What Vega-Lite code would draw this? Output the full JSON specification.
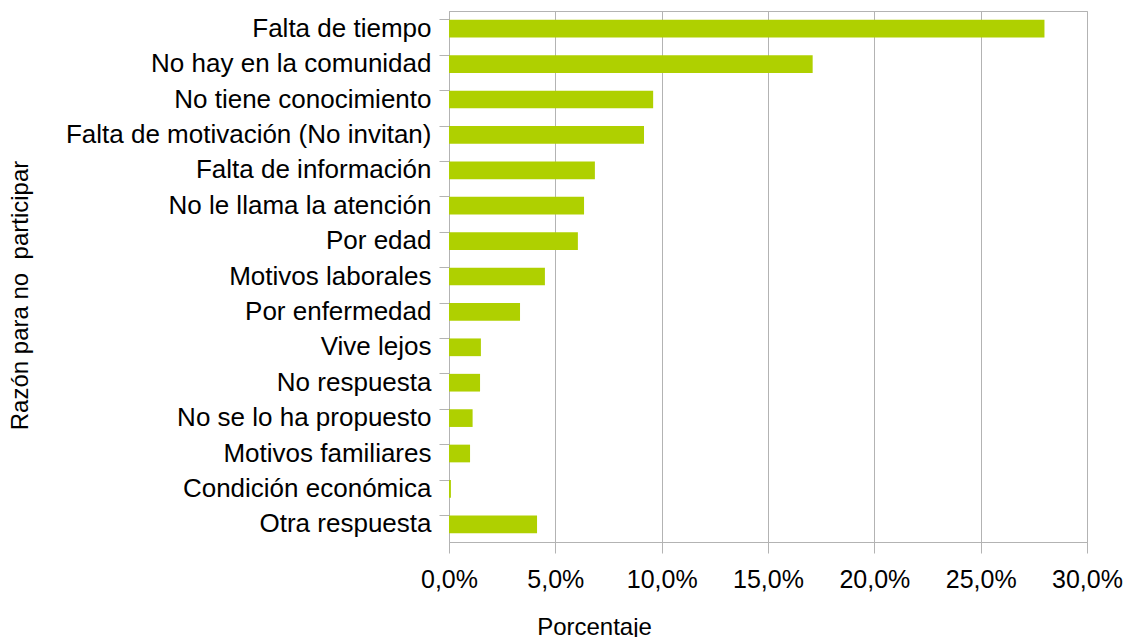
{
  "$schema": "https://vega.github.io/schema/vega-lite/v6.json",
  "width": 638,
  "height": 531,
  "autosize": {"type": "none"},
  "padding": {"left": 449, "top": 11, "right": 41, "bottom": 95},
  "background": "white",
  "config": {
    "font": "Liberation Sans",
    "view": {"stroke": "#b3b3b3", "strokeWidth": 1}
  },
  "data": {
    "values": [
      {"razon": "Falta de tiempo", "pct": 0.280},
      {"razon": "No hay en la comunidad", "pct": 0.171},
      {"razon": "No tiene conocimiento", "pct": 0.096},
      {"razon": "Falta de motivación (No invitan)", "pct": 0.0917},
      {"razon": "Falta de información", "pct": 0.0686},
      {"razon": "No le llama la atención", "pct": 0.0635},
      {"razon": "Por edad", "pct": 0.0606},
      {"razon": "Motivos laborales", "pct": 0.0451},
      {"razon": "Por enfermedad", "pct": 0.0334},
      {"razon": "Vive lejos", "pct": 0.0150},
      {"razon": "No respuesta", "pct": 0.0146},
      {"razon": "No se lo ha propuesto", "pct": 0.0111},
      {"razon": "Motivos familiares", "pct": 0.0099},
      {"razon": "Condición económica", "pct": 0.0009},
      {"razon": "Otra respuesta", "pct": 0.0414}
    ]
  },
  "mark": {"type": "bar", "color": "#afd000"},
  "encoding": {
    "y": {
      "field": "razon",
      "type": "nominal",
      "sort": null,
      "scale": {"paddingInner": 0.5, "paddingOuter": 0.25},
      "axis": {
        "title": "Razón para no\u00a0 participar",
        "titleFontSize": 24,
        "titleFontWeight": "normal",
        "titleColor": "black",
        "titleAngle": -90,
        "titleX": -429,
        "titleY": 284,
        "titleAlign": "center",
        "titleBaseline": "middle",
        "labelFontSize": 26,
        "labelColor": "black",
        "labelPadding": 8,
        "labelLimit": 500,
        "tickSize": 10,
        "tickColor": "#b3b3b3",
        "bandPosition": 0,
        "domainColor": "#b3b3b3",
        "grid": false
      }
    },
    "x": {
      "field": "pct",
      "type": "quantitative",
      "scale": {"domain": [0, 0.3], "nice": false},
      "axis": {
        "title": "Porcentaje",
        "titleFontSize": 24,
        "titleFontWeight": "normal",
        "titleColor": "black",
        "titleX": 145,
        "titleY": 92,
        "titleAlign": "center",
        "titleBaseline": "alphabetic",
        "values": [0, 0.05, 0.1, 0.15, 0.2, 0.25, 0.3],
        "format": ".1%",
        "labelExpr": "replace(datum.label, '.', ',')",
        "labelFontSize": 25,
        "labelColor": "black",
        "labelPadding": 14,
        "labelFlush": false,
        "labelOverlap": false,
        "tickSize": 11,
        "tickColor": "#b3b3b3",
        "domainColor": "#b3b3b3",
        "grid": true,
        "gridColor": "#b3b3b3"
      }
    }
  }
}
